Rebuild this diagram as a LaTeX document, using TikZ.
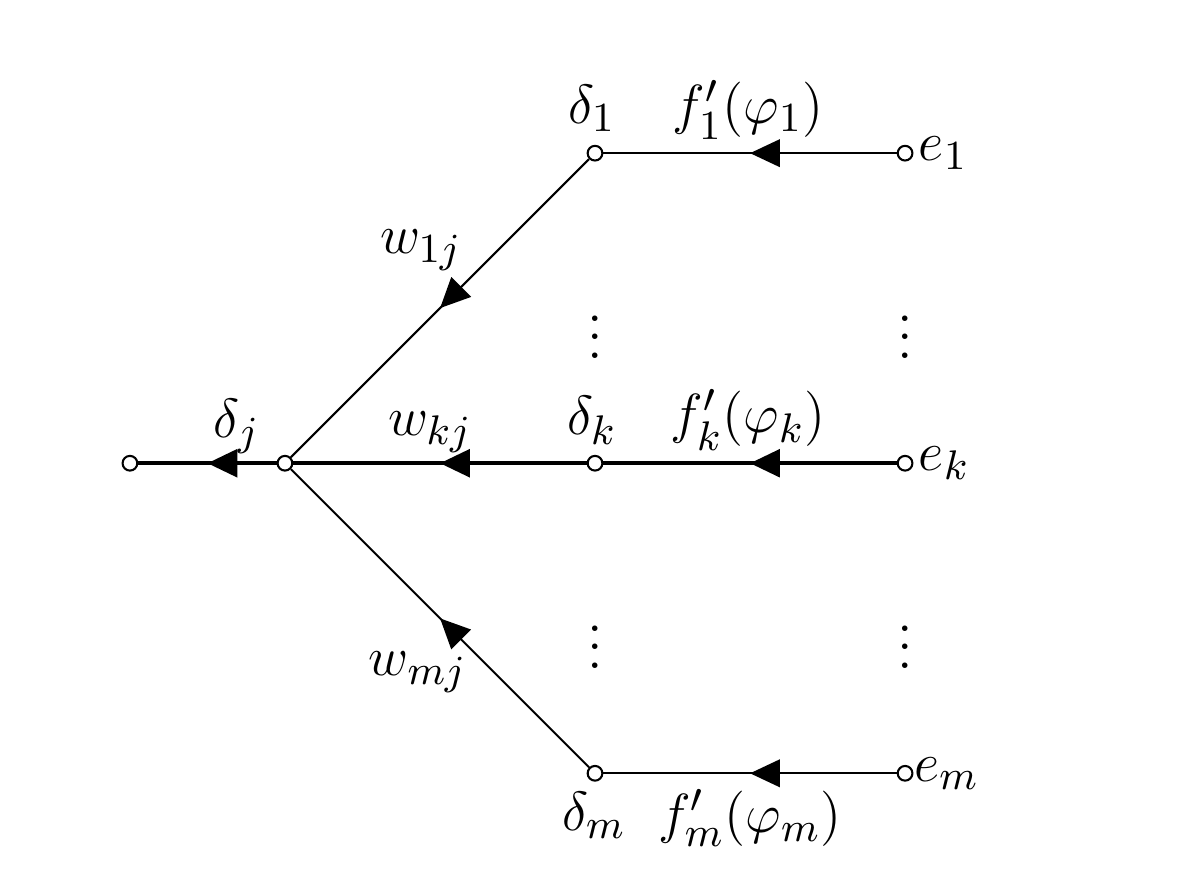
\documentclass[tikz,border=0pt]{standalone}
\usepackage{amsmath,amssymb}
\usepackage{tikz}
\usetikzlibrary{arrows.meta,decorations.markings}

\begin{document}
\begin{tikzpicture}[x=2.37cm,y=2.37cm,font=\fontsize{12.4}{15}\selectfont,
    unit/.style={circle,draw,fill=white,inner sep=0pt,minimum size=3.2pt,line width=0.45pt},
    flow/.style={line width=0.45pt,postaction={decorate},
      decoration={markings,mark=at position 0.5 with {\arrow{Triangle[length=6.5pt,width=6pt]}}}},
    flowthick/.style={flow,line width=0.85pt}]
  \useasboundingbox (-0.919,-1.358) rectangle (2.935,1.494);
  % units
  \node[unit] (out) at (-0.5,0) {};
  \node[unit] (hub) at (0,0) {};
  \node[unit] (d1) at (1,1) {};
  \node[unit] (dk) at (1,0) {};
  \node[unit] (dm) at (1,-1) {};
  \node[unit] (e1) at (2,1) {};
  \node[unit] (ek) at (2,0) {};
  \node[unit] (em) at (2,-1) {};
  % connections
  \draw[flow] (e1) -- (d1);
  \draw[flow] (em) -- (dm);
  \draw[flowthick] (ek) -- (dk);
  \draw[flowthick] (dk) -- (hub);
  \draw[flowthick] (hub) -- (out);
  \draw[flow] (d1) -- (hub);
  \draw[flow] (dm) -- (hub);
  % dots
  \node (dots1) at (1,0.452) {$\vdots$};
  \node (dots2) at (2,0.452) {$\vdots$};
  \node (dots3) at (1,-0.548) {$\vdots$};
  \node (dots4) at (2,-0.548) {$\vdots$};
  % labels
  \node (lj) at (-0.155,0.12) {$\delta_j$};
  \node (l1j) at (0.439,0.687) {$w_{1j}$};
  \node (lkj) at (0.468,0.1) {$w_{kj}$};
  \node (lmj) at (0.429,-0.674) {$w_{mj}$};
  \node (l1) at (0.99,1.145) {$\delta_1$};
  \node (lk) at (0.99,0.139) {$\delta_k$};
  \node (lm) at (0.997,-1.135) {$\delta_m$};
  \node (f1) at (1.494,1.139) {$f_1'(\varphi_1)$};
  \node (fk) at (1.494,0.139) {$f_k'(\varphi_k)$};
  \node (fm) at (1.5,-1.145) {$f_m'(\varphi_m)$};
  \node[anchor=west,inner sep=1pt] (le1) at (e1.east) {$e_1$};
  \node[anchor=west,inner sep=1pt] (lek) at (ek.east) {$e_k$};
  \node[anchor=west,inner sep=0pt] (lem) at (em.east) {$e_m$};
\end{tikzpicture}
\end{document}
